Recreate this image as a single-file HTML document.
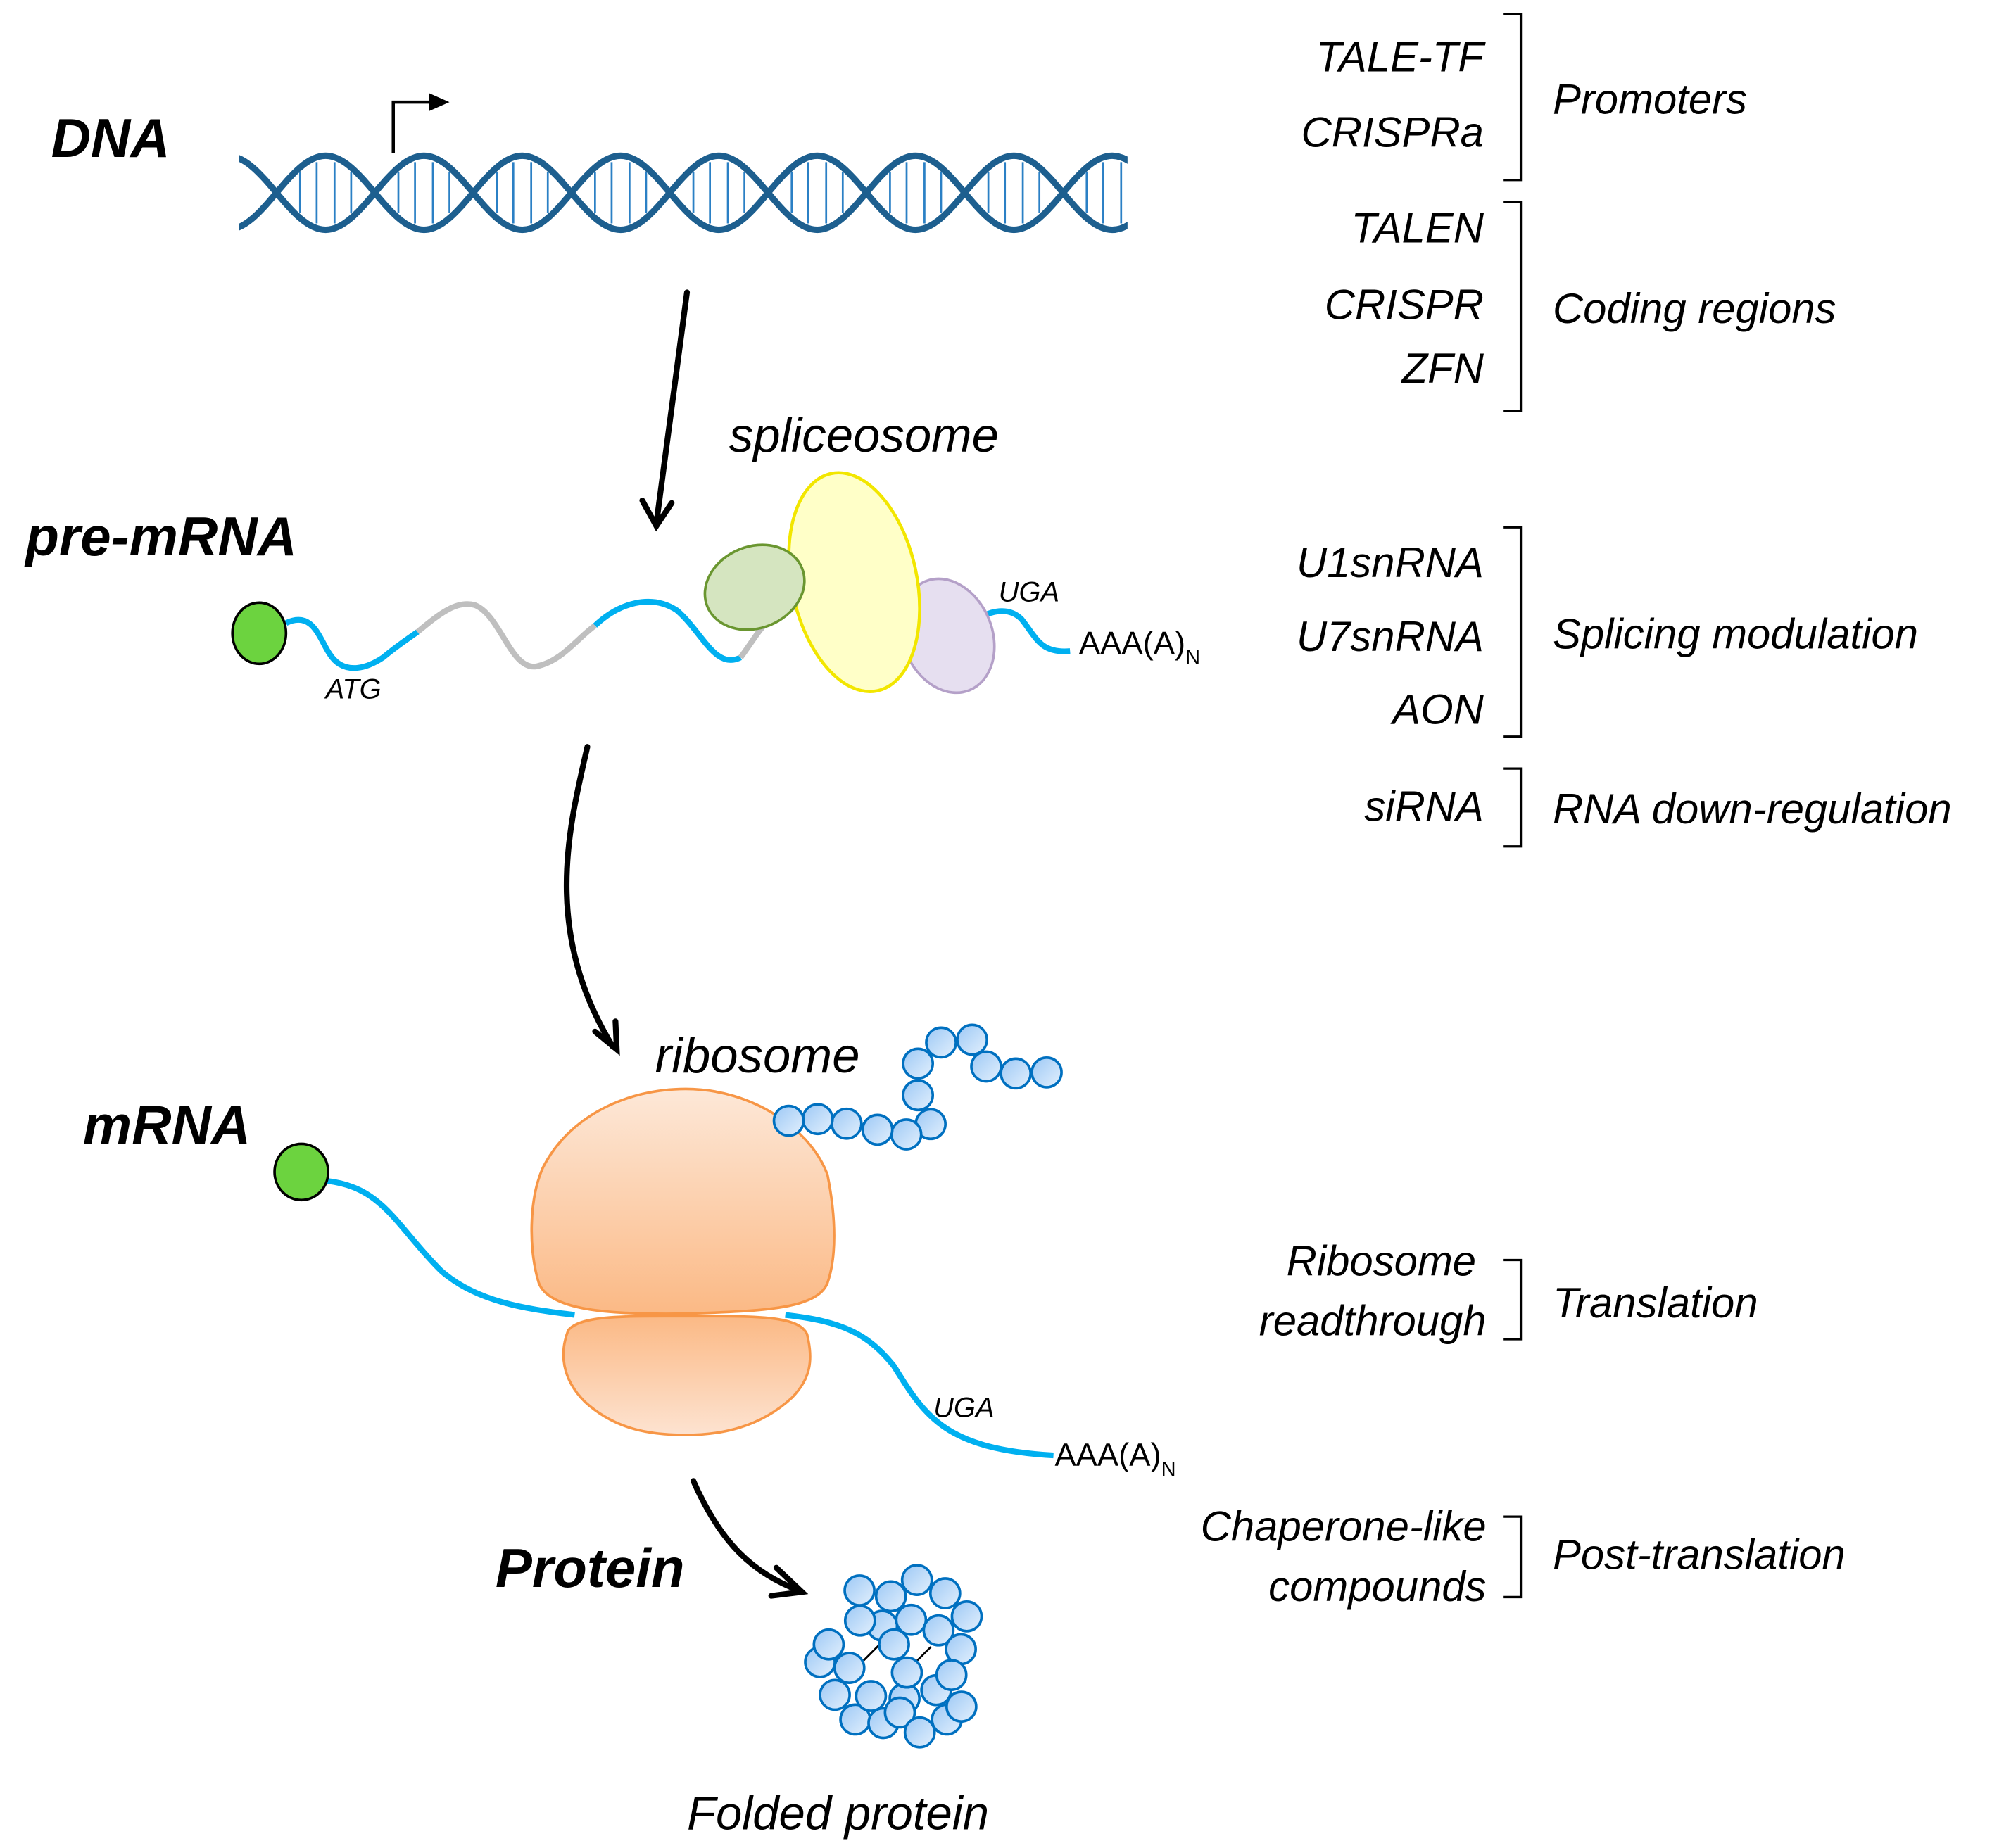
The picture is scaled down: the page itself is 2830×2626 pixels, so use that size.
<!DOCTYPE html>
<html><head><meta charset="utf-8"><style>
html,body{margin:0;padding:0;background:#fff;}
svg{display:block;}
text{font-family:"Liberation Sans",sans-serif;}
.it{font-style:italic;font-size:33px;fill:#000;}
.bi{font-style:italic;font-weight:bold;font-size:43px;fill:#000;}
</style></head><body>
<svg width="2830" height="2626" viewBox="0 0 2830 2626" xmlns="http://www.w3.org/2000/svg">
<defs>
<linearGradient id="bead" x1="0" y1="0" x2="1" y2="1"><stop offset="0" stop-color="#9cc8f5"/><stop offset="1" stop-color="#e3f0fd"/></linearGradient>
<linearGradient id="ribT" x1="0" y1="0" x2="0" y2="1"><stop offset="0" stop-color="#fde8d8"/><stop offset="1" stop-color="#fbb985"/></linearGradient>
<linearGradient id="ribB" x1="0" y1="0" x2="0" y2="1"><stop offset="0" stop-color="#fbb985"/><stop offset="1" stop-color="#fde3d1"/></linearGradient>
<clipPath id="dc"><rect x="187" y="100" width="696" height="100"/></clipPath>
</defs>
<g transform="scale(1.8141)">
<text class="bi" x="40" y="123">DNA</text>
<text class="bi" x="20" y="435">pre-mRNA</text>
<text class="bi" x="65" y="896">mRNA</text>
<text class="bi" x="388" y="1243">Protein</text>
<text class="it" x="571" y="354" style="font-size:38px">spliceosome</text>
<text class="it" x="513" y="840" style="font-size:39px">ribosome</text>
<text class="it" x="538" y="1433" style="font-size:37px">Folded protein</text>

<!-- DNA -->
<g clip-path="url(#dc)" fill="none">
<path d="M235,135V167M248,127V175M262,127V175M275,135V167 M312,135V167M325,127V175M339,127V175M352,135V167 M389,135V167M402,127V175M416,127V175M429,135V167 M466,135V167M479,127V175M493,127V175M506,135V167 M543,135V167M556,127V175M570,127V175M583,135V167 M620,135V167M633,127V175M647,127V175M660,135V167 M697,135V167M710,127V175M724,127V175M737,135V167 M774,135V167M787,127V175M801,127V175M814,135V167 M851,135V167M864,127V175M878,127V175" stroke="#2b80c5" stroke-width="1.5"/>
<path d="M178,180 C206,180 227,122 255,122 C283,122 304,180 332,180 C360,180 381,122 409,122 C437,122 458,180 486,180 C514,180 535,122 563,122 C591,122 612,180 640,180 C668,180 689,122 717,122 C745,122 766,180 794,180 C822,180 843,122 871,122 C899,122 920,180 948,180" stroke="#1d5f8f" stroke-width="5"/>
<path d="M178,122 C206,122 227,180 255,180 C283,180 304,122 332,122 C360,122 381,180 409,180 C437,180 458,122 486,122 C514,122 535,180 563,180 C591,180 612,122 640,122 C668,122 689,180 717,180 C745,180 766,122 794,122 C822,122 843,180 871,180 C899,180 920,122 948,122" stroke="#1d5f8f" stroke-width="5"/>
</g>
<path d="M308,120 V80 H338" fill="none" stroke="#000" stroke-width="2.5"/>
<path d="M336,73 L352,80 L336,87 Z" fill="#000"/>

<g fill="none" stroke="#000" stroke-width="4.5" stroke-linecap="round">
<path d="M538,229 L514,410"/>
<path d="M503,392 L514,412 L526,394"/>
<path d="M460,585 C445,650 425,730 480,820"/>
<path d="M466,808 L483,822 L482,800"/>
<path d="M543,1160 C565,1210 590,1232 626,1246"/>
<path d="M608,1228 L628,1247 L604,1250"/>
</g>

<g fill="none" stroke-width="4.5">
<path d="M224,488 C245,478 250,500 258,512 C268,528 285,525 300,515 C312,505 320,500 327,495" stroke="#00b0f0"/>
<path d="M327,495 C345,480 358,470 372,474 C392,482 400,525 420,522 C440,518 452,500 466,490" stroke="#bfbfbf"/>
<path d="M466,490 C485,472 510,465 530,478 C550,495 560,525 580,515" stroke="#00b0f0"/>
<path d="M580,515 C595,495 600,480 625,475" stroke="#bfbfbf"/>
<path d="M765,486 C775,478 790,475 800,485 C812,500 815,512 838,510" stroke="#00b0f0"/>
</g>
<ellipse cx="203" cy="496" rx="21" ry="24" fill="#6cd33f" stroke="#000" stroke-width="2"/>
<ellipse cx="742" cy="498" rx="35" ry="46" transform="rotate(-22 742 498)" fill="#e6dff0" stroke="#b4a0c8" stroke-width="2"/>
<ellipse cx="669" cy="456" rx="49" ry="87" transform="rotate(-12 669 456)" fill="#ffffc8" stroke="#f2e600" stroke-width="2.5"/>
<ellipse cx="591" cy="460" rx="40" ry="32" transform="rotate(-22 591 460)" fill="#d5e5c0" stroke="#6a9630" stroke-width="2"/>
<text class="it" x="255" y="547" style="font-size:22px">ATG</text>
<text class="it" x="782" y="471" style="font-size:22px">UGA</text>
<text x="845" y="512" style="font-size:25px">AAA(A)<tspan dy="8" style="font-size:16px">N</tspan></text>

<g fill="none" stroke="#00b0f0" stroke-width="4.5">
<path d="M256,925 C300,930 310,960 345,995 C375,1022 420,1026 450,1030"/>
<path d="M615,1030 C660,1035 680,1045 700,1070 C725,1110 740,1135 825,1140"/>
</g>
<ellipse cx="236" cy="918" rx="21" ry="22" fill="#6cd33f" stroke="#000" stroke-width="2"/>
<path d="M537,853 C590,853 635,885 648,920 C655,955 655,985 648,1005 C640,1025 600,1027 537,1029 C475,1030 430,1026 422,1005 C414,980 414,940 425,915 C445,875 490,853 537,853 Z" fill="url(#ribT)" stroke="#f79646" stroke-width="2"/>
<path d="M537,1031 C590,1031 625,1030 632,1045 C637,1065 635,1080 620,1095 C595,1118 565,1124 537,1124 C505,1124 480,1118 458,1098 C440,1080 438,1060 445,1042 C455,1030 490,1031 537,1031 Z" fill="url(#ribB)" stroke="#f79646" stroke-width="2"/>
<text class="it" x="731" y="1110" style="font-size:22px">UGA</text>
<text x="826" y="1148" style="font-size:25px">AAA(A)<tspan dy="8" style="font-size:16px">N</tspan></text>

<g fill="url(#bead)" stroke="#0070c0" stroke-width="2">
<circle cx="819.7" cy="840" r="11.6"/><circle cx="795.5" cy="840.8" r="11.6"/><circle cx="772.3" cy="835.4" r="11.6"/>
<circle cx="761.3" cy="814.4" r="11.6"/><circle cx="737" cy="816.6" r="11.6"/><circle cx="718.9" cy="833.1" r="11.6"/>
<circle cx="718.9" cy="857.9" r="11.6"/><circle cx="728.8" cy="880.5" r="11.6"/><circle cx="709.8" cy="888.6" r="11.6"/>
<circle cx="687.2" cy="884.9" r="11.6"/><circle cx="663" cy="880.2" r="11.6"/><circle cx="640.4" cy="876.6" r="11.6"/>
<circle cx="617.7" cy="877.9" r="11.6"/>
</g>

<g stroke="#000" stroke-width="1.5"><line x1="676" y1="1301" x2="688" y2="1289"/><line x1="717" y1="1302" x2="729" y2="1290"/></g>
<g fill="url(#bead)" stroke="#0070c0" stroke-width="2">
<circle cx="642.2" cy="1301.9" r="11.6"/><circle cx="690.9" cy="1273.4" r="11.6"/><circle cx="708.4" cy="1330.4" r="11.6"/>
<circle cx="669.8" cy="1346.9" r="11.6"/><circle cx="691.8" cy="1349.7" r="11.6"/><circle cx="741.5" cy="1346.9" r="11.6"/>
<circle cx="733.2" cy="1323.9" r="11.6"/><circle cx="673.1" cy="1245.8" r="11.6"/><circle cx="697.7" cy="1250.4" r="11.6"/>
<circle cx="718.1" cy="1237.6" r="11.6"/><circle cx="740.2" cy="1248" r="11.6"/><circle cx="757.1" cy="1266.1" r="11.6"/>
<circle cx="673.5" cy="1269.4" r="11.6"/><circle cx="713.5" cy="1268.8" r="11.6"/><circle cx="735" cy="1277.1" r="11.6"/>
<circle cx="700.1" cy="1288.1" r="11.6"/><circle cx="752.5" cy="1291.8" r="11.6"/><circle cx="649" cy="1288.1" r="11.6"/>
<circle cx="665.2" cy="1306.5" r="11.6"/><circle cx="710.2" cy="1310.1" r="11.6"/><circle cx="745.1" cy="1312" r="11.6"/>
<circle cx="653.8" cy="1327.6" r="11.6"/><circle cx="682.1" cy="1328.5" r="11.6"/><circle cx="704.7" cy="1341.4" r="11.6"/>
<circle cx="720.3" cy="1357" r="11.6"/><circle cx="752.9" cy="1336.8" r="11.6"/>
</g>

<g text-anchor="end">
<text class="it" x="1162" y="56">TALE-TF</text>
<text class="it" x="1162" y="115">CRISPRa</text>
<text class="it" x="1162" y="190">TALEN</text>
<text class="it" x="1162" y="250">CRISPR</text>
<text class="it" x="1162" y="300">ZFN</text>
<text class="it" x="1162" y="452">U1snRNA</text>
<text class="it" x="1162" y="510">U7snRNA</text>
<text class="it" x="1162" y="567">AON</text>
<text class="it" x="1162" y="643">siRNA</text>
<text class="it" x="1156" y="999">Ribosome</text>
<text class="it" x="1164" y="1046">readthrough</text>
<text class="it" x="1164" y="1207">Chaperone-like</text>
<text class="it" x="1164" y="1254">compounds</text>
</g>
<g>
<text class="it" x="1216" y="89">Promoters</text>
<text class="it" x="1216" y="253">Coding regions</text>
<text class="it" x="1216" y="508">Splicing modulation</text>
<text class="it" x="1216" y="645">RNA down-regulation</text>
<text class="it" x="1216" y="1032">Translation</text>
<text class="it" x="1216" y="1229">Post-translation</text>
</g>
<g fill="none" stroke="#000" stroke-width="1.8">
<path d="M1177,11 H1191 V141 H1177"/>
<path d="M1177,158 H1191 V322 H1177"/>
<path d="M1177,413 H1191 V577 H1177"/>
<path d="M1177,602 H1191 V663 H1177"/>
<path d="M1177,987 H1191 V1049 H1177"/>
<path d="M1177,1188 H1191 V1251 H1177"/>
</g>
</g>
</svg>
</body></html>
